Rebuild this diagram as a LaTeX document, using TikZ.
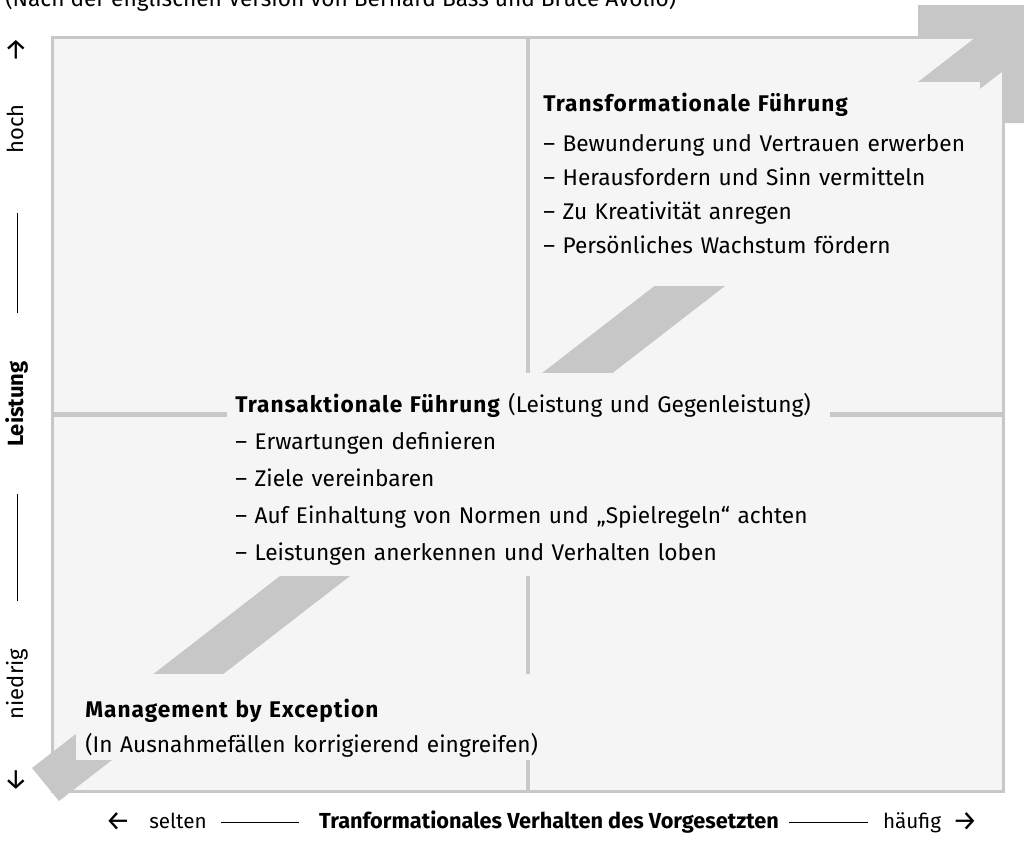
\documentclass[tikz,border=0pt]{standalone}
\usepackage{fontspec}
\setmainfont{Fira Sans}
\usetikzlibrary{positioning}
\definecolor{panel}{HTML}{F5F5F5}
\definecolor{rulegray}{HTML}{C8C8C8}
\definecolor{bandgray}{HTML}{C6C7C6}
\newcommand\boxtitle[1]{\textbf{\addfontfeature{LetterSpace=4.5}#1}}

\begin{document}
\begin{tikzpicture}[
    x=0.75pt, y=-0.75pt,
    font=\fontsize{17}{25.5}\selectfont,
    frame/.style={draw=rulegray, fill=panel, line width=2.25pt},
    divider/.style={draw=rulegray, line width=3.6pt},
    band/.style={fill=bandgray},
    knockout/.style={fill=panel},
    block/.style={anchor=base west, align=left, inner sep=0pt},
    axis/.style={inner sep=0pt, text height=12pt, text depth=3pt, font=\fontsize{15.5}{18}\selectfont},
    axisrot/.style={axis, rotate=90, font=\fontsize{16.5}{18}\selectfont},
    axisarrow/.style={inner sep=0pt, font=\fontsize{21}{21}\selectfont},
    axisline/.style={draw=black, line width=0.6pt}
]
\useasboundingbox (0,0) rectangle (1024,847);

% --- arrow head top right, quadrant frame ---
\fill[band] (918,5) -- (1030,5) -- (1030,123) -- (1003,123) -- (918,37) -- cycle;
\draw[frame] (52.5,37.5) rectangle (1003,791);
\draw[divider] (528,37.5) -- (528,791);
\draw[divider] (52.5,414.5) -- (1003,414.5);

% --- diagonal band ---
\fill[band] (32,768) -- (59,801) -- (1069,20) -- (998,20) -- cycle;

% --- panels behind the texts ---
\fill[knockout] (535,82) rectangle (980,286);
\fill[knockout] (227,373) rectangle (830,576);
\fill[knockout] (76,674) rectangle (550,760);

% --- texts ---
\node[anchor=base west, inner sep=0pt] (source) at (5,6) {(Nach der englischen Version von Bernard Bass und Bruce Avolio)};
\node[block, text width=330pt] (transform) at (543,111)
  {\boxtitle{Transformationale Führung}\\[4.5pt]
   – Bewunderung und Vertrauen erwerben\\
   – Herausfordern und Sinn vermitteln\\
   – Zu Kreativität anregen\\
   – Persönliches Wachstum fördern};
\node[block, text width=450pt, font=\fontsize{17}{27.75}\selectfont] (transakt) at (235,412)
  {\boxtitle{Transaktionale Führung} (Leistung und Gegenleistung)\\
   – Erwartungen definieren\\
   – Ziele vereinbaren\\
   – Auf Einhaltung von Normen und „Spielregeln“ achten\\
   – Leistungen anerkennen und Verhalten loben};
\node[block, text width=360pt, font=\fontsize{17}{26.25}\selectfont] (mbe) at (85,717)
  {\boxtitle{Management by Exception}\\
   (In Ausnahmefällen korrigierend eingreifen)};

% --- vertical axis ---
\node[axisarrow, rotate=90] (up) at (17,50) {→};
\node[axisrot] (hoch) at (17,129) {hoch};
\node[axisrot] (leistung) at (17,404) {\textbf{Leistung}};
\node[axisrot] (niedrig) at (17,684) {niedrig};
\node[axisarrow, rotate=90] (down) at (17,780) {←};
\draw[axisline, shorten <=44pt, shorten >=36pt] (hoch) -- (leistung);
\draw[axisline, shorten <=35pt, shorten >=36pt] (leistung) -- (niedrig);

% --- horizontal axis ---
\node[axis, font=\fontsize{16.3}{18}\selectfont] (verhalten) at (549,822) {\textbf{Tranformationales Verhalten des Vorgesetzten}};
\node[axis] (selten) at (178,822) {selten};
\node[axisarrow] (left) at (118,822) {←};
\node[axis] (haeufig) at (912,822) {häufig};
\node[axisarrow] (right) at (965,822) {→};
\draw[axisline, shorten <=10.5pt, shorten >=15pt] (selten) -- (verhalten);
\draw[axisline, shorten <=7.5pt, shorten >=11pt] (verhalten) -- (haeufig);
\end{tikzpicture}
\end{document}
